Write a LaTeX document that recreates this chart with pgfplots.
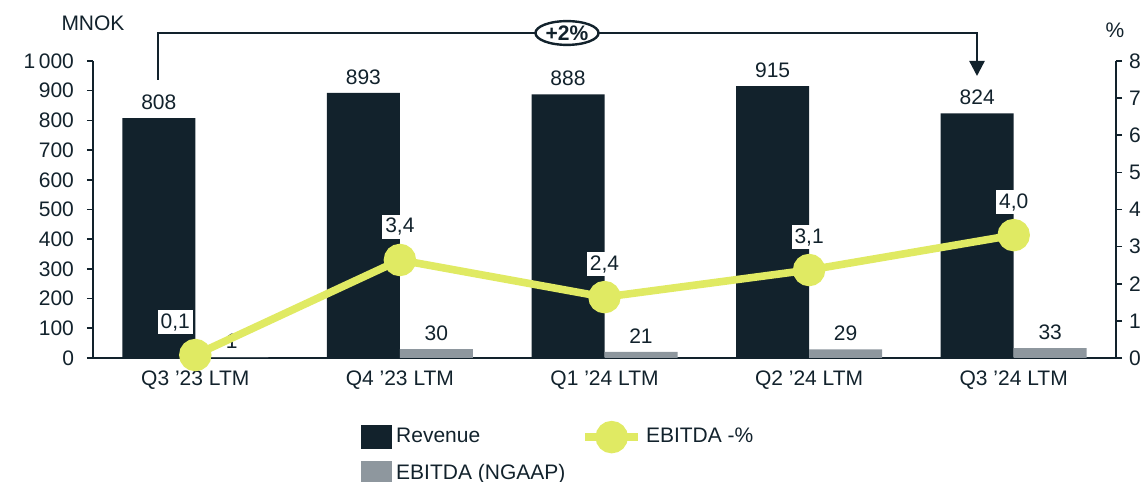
\documentclass[border=0pt]{standalone}
\usepackage{fontspec}
\setmainfont{Liberation Sans}
\usepackage{pgfplots}
\usepackage{pgfplotstable}
\pgfplotsset{compat=1.18}
\usetikzlibrary{arrows.meta,shapes.geometric}

\definecolor{navy}{HTML}{12222C}
\definecolor{slate}{HTML}{8E979E}
\definecolor{lime}{HTML}{E0EA63}

% MNOK
\pgfplotstableread{
x rev ebitda
0 808 1
1 893 30
2 888 21
3 915 29
4 824 33
}\bars

% EBITDA-% as drawn (pos) and as labelled (lab)
\pgfplotstableread{
x pos lab dx
0 0.08 {0,1} -10
1 2.64 {3,4} 0
2 1.64 {2,4} 0
3 2.37 {3,1} 0
4 3.31 {4,0} 0
}\margin

\newcommand{\lbl}{\fontsize{10.5}{12}\selectfont}

\pgfplotsset{
    base/.style={
        scale only axis,
        width=511.5pt, height=148.5pt,
        at={(46.5pt,62pt)}, anchor=south west,
        xmin=-0.5, xmax=4.5,
        clip=false,
        axis line style={navy, line width=0.8pt},
        tick align=outside,
        major tick length=3pt,
        y tick style={navy, line width=0.8pt},
        tick label style={font=\lbl, text=navy},
        /pgf/number format/assume math mode=true,
        /pgf/number format/1000 sep={\,},
    },
    lineleg/.style={
        legend image code/.code={\draw[##1, mark repeat=2, mark phase=2]
            plot coordinates {(0pt,0pt) (13.25pt,0pt) (26.5pt,0pt)};}
    },
}

\begin{document}
\begin{tikzpicture}
\useasboundingbox (0,0) rectangle (573.5pt,241pt);

\begin{axis}[
    base,
    ymin=0, ymax=1000,
    ytick={0,100,...,1000},
    axis x line*=bottom,
    axis y line*=left,
    yticklabel style={xshift=-3pt},
    xtick={0,1,2,3,4},
    xticklabels={Q3 ’23 LTM, Q4 ’23 LTM, Q1 ’24 LTM, Q2 ’24 LTM, Q3 ’24 LTM},
    x tick style={draw=none},
    ybar,
    bar width=36.5pt,
    nodes near coords,
    nodes near coords style={font=\lbl, text=navy, anchor=center, yshift=8pt},
]
    \addplot[fill=navy, draw=none, bar shift=-18.25pt] table[x=x, y=rev] {\bars};
    \addplot[fill=slate, draw=none, bar shift=18.25pt] table[x=x, y=ebitda] {\bars};
\end{axis}

\begin{axis}[
    base,
    ymin=0, ymax=8,
    ytick={0,1,...,8},
    axis y line*=right,
    axis x line=none,
    xtick=\empty,
    legend columns=2,
    legend cell align=left,
    legend style={
        draw=none, fill=none, font=\lbl, text=navy,
        at={(axis description cs:0.262,-0.222)}, anchor=north west,
        inner sep=0pt, row sep=5pt,
        /tikz/every even column/.append style={column sep=6pt},
    },
]
    \addlegendimage{legend image code/.code={\fill[navy] (0pt,-5.75pt) rectangle (15pt,5.75pt);}}
    \addlegendentry{Revenue}
    \addplot[
        lime, line width=3.8pt,
        mark=*, mark size=6.2pt, mark options={fill=lime, draw=none},
        point meta=explicit symbolic,
        visualization depends on={\thisrow{dx} \as \dx},
        nodes near coords,
        nodes near coords style={font=\lbl, text=navy, fill=white, inner sep=1.5pt,
            anchor=center, xshift=\dx pt, yshift=16.5pt},
        lineleg,
    ] table[x=x, y=pos, meta=lab] {\margin};
    \addlegendentry{EBITDA -\%}
    \addlegendimage{legend image code/.code={\fill[slate] (0pt,-5.75pt) rectangle (15pt,5.75pt);}}
    \addlegendentry{EBITDA (NGAAP)}
\end{axis}

\node[text=navy, font=\lbl] at (46.5pt,229.5pt) {MNOK};
\node[text=navy, font=\lbl] at (557.5pt,226pt) {\%};

\draw[navy, line width=1.2pt, -{Triangle[width=7.5pt,length=7.5pt]}]
    (79pt,201pt) -- (79pt,224.5pt) -- (488.5pt,224.5pt) -- (488.5pt,203pt);
\node[ellipse, draw=navy, line width=1.2pt, fill=white, inner sep=0.5pt,
    font=\bfseries\lbl, text=navy] at (283.5pt,224.5pt) {+2\%};
\end{tikzpicture}
\end{document}
